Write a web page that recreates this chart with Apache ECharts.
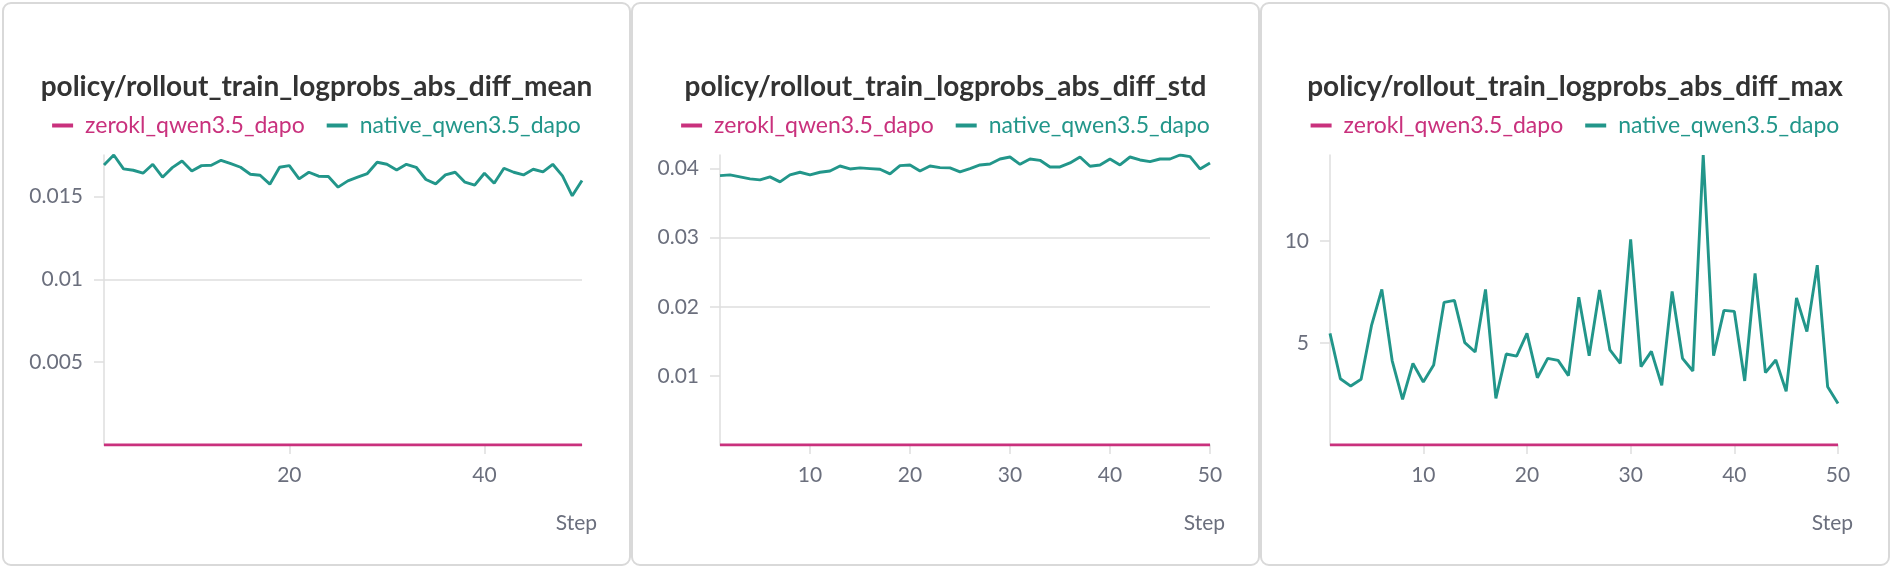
<!DOCTYPE html>
<html>
<head>
<meta charset="utf-8">
<script src="https://cdn.jsdelivr.net/npm/echarts@6/dist/echarts.min.js"></script>
<style>
  html, body { margin: 0; padding: 0; background: #fff; }
  body { width: 1892px; height: 572px; position: relative; overflow: hidden; }
  .card {
    position: absolute;
    top: 2px;
    height: 564px;
    box-sizing: border-box;
    border: 2px solid #d9d9d9;
    border-radius: 9px;
    background: #fff;
  }
  .card .chart { width: 100%; height: 100%; }
</style>
</head>
<body>
<div class="card" style="left:2px;width:629px"><div class="chart" id="chart-mean"></div></div>
<div class="card" style="left:631px;width:629px"><div class="chart" id="chart-std"></div></div>
<div class="card" style="left:1260px;width:630px"><div class="chart" id="chart-max"></div></div>
<script>
// ---- data ----
const steps = [
  1, 2, 3, 4, 5, 6, 7, 8, 9, 10,
  11, 12, 13, 14, 15, 16, 17, 18, 19, 20,
  21, 22, 23, 24, 25, 26, 27, 28, 29, 30,
  31, 32, 33, 34, 35, 36, 37, 38, 39, 40,
  41, 42, 43, 44, 45, 46, 47, 48, 49, 50
]

const nativeMean = [
  0.0169, 0.0175, 0.01666, 0.01658, 0.0164, 0.01694, 0.01616, 0.01674, 0.01714, 0.01654,
  0.01686, 0.01688, 0.01718, 0.01698, 0.01676, 0.01634, 0.01628, 0.01574, 0.01676, 0.01686,
  0.01606, 0.01646, 0.01622, 0.0162, 0.01556, 0.01594, 0.01616, 0.01638, 0.01706, 0.01694,
  0.0166, 0.01694, 0.01676, 0.01602, 0.01576, 0.0163, 0.01646, 0.01586, 0.01568, 0.0164,
  0.0158, 0.0167, 0.01646, 0.0163, 0.01664, 0.01648, 0.01694, 0.01624, 0.01504, 0.01596
]
const zeroklMean = [
  0, 0, 0, 0, 0, 0, 0, 0, 0, 0,
  0, 0, 0, 0, 0, 0, 0, 0, 0, 0,
  0, 0, 0, 0, 0, 0, 0, 0, 0, 0,
  0, 0, 0, 0, 0, 0, 0, 0, 0, 0,
  0, 0, 0, 0, 0, 0, 0, 0, 0, 0
]

const nativeStd = [
  0.03899, 0.03909, 0.0388, 0.03851, 0.03837, 0.0388, 0.03808, 0.03909, 0.03947, 0.03909,
  0.03947, 0.03966, 0.04038, 0.03995, 0.0401, 0.04, 0.0399, 0.03923, 0.04043, 0.04053,
  0.03966, 0.04038, 0.04014, 0.0401, 0.03952, 0.04, 0.04053, 0.04067, 0.04139, 0.04168,
  0.04062, 0.04139, 0.0412, 0.04024, 0.04024, 0.04082, 0.04168, 0.04034, 0.04053, 0.04139,
  0.04053, 0.04168, 0.04125, 0.04101, 0.04139, 0.04139, 0.04197, 0.04173, 0.03995, 0.04082
]
const zeroklStd = [
  0, 0, 0, 0, 0, 0, 0, 0, 0, 0,
  0, 0, 0, 0, 0, 0, 0, 0, 0, 0,
  0, 0, 0, 0, 0, 0, 0, 0, 0, 0,
  0, 0, 0, 0, 0, 0, 0, 0, 0, 0,
  0, 0, 0, 0, 0, 0, 0, 0, 0, 0
]

const nativeMax = [
  5.47, 3.25, 2.89, 3.22, 5.85, 7.63, 4.13, 2.24, 4.0, 3.09,
  3.92, 6.99, 7.09, 5.02, 4.56, 7.63, 2.29, 4.46, 4.36, 5.47,
  3.3, 4.25, 4.15, 3.4, 7.25, 4.38, 7.6, 4.66, 4.0, 10.08,
  3.84, 4.59, 2.92, 7.53, 4.25, 3.63, 14.22, 4.38, 6.6, 6.55,
  3.14, 8.42, 3.55, 4.17, 2.63, 7.21, 5.56, 8.82, 2.86, 2.04
]
const zeroklMax = [
  0, 0, 0, 0, 0, 0, 0, 0, 0, 0,
  0, 0, 0, 0, 0, 0, 0, 0, 0, 0,
  0, 0, 0, 0, 0, 0, 0, 0, 0, 0,
  0, 0, 0, 0, 0, 0, 0, 0, 0, 0,
  0, 0, 0, 0, 0, 0, 0, 0, 0, 0
]

// tick labels
const xTicksMean = [20, 40]
const xTicksStd = [10, 20, 30, 40, 50]
const xTicksMax = [10, 20, 30, 40, 50]
const yTicksMean = [0.005, 0.01, 0.015]
const yTicksStd = [0.01, 0.02, 0.03, 0.04]
const yTicksMax = [5, 10]

const SERIES_ZEROKL = 'zerokl_qwen3.5_dapo'
const SERIES_NATIVE = 'native_qwen3.5_dapo'

// ---- styling ----
const FONT = 'Lato, "Noto Sans", sans-serif'
const COLOR_ZEROKL = '#c9317d'
const COLOR_NATIVE = '#22968a'
const COLOR_LABEL = '#6b6f7d'
const COLOR_GRID = '#dedede'

function toPoints(values) {
  return steps.map((s, i) => [s, values[i]])
}

function buildOption(cfg) {
  return {
    animation: false,
    textStyle: { fontFamily: FONT },
    title: {
      text: cfg.title,
      left: 'center',
      top: 64,
      textStyle: { fontFamily: FONT, fontSize: 28, fontWeight: 'bold', color: '#333333' },
    },
    legend: {
      left: 'center',
      top: 105,
      icon: 'rect',
      itemWidth: 21,
      itemHeight: 4,
      itemGap: 22,
      textStyle: { fontFamily: FONT, fontSize: 23, padding: [0, 0, 0, 7] },
      data: [
        { name: SERIES_ZEROKL, textStyle: { color: COLOR_ZEROKL } },
        { name: SERIES_NATIVE, textStyle: { color: COLOR_NATIVE } },
      ],
    },
    grid: { left: cfg.gridLeft, top: 151, width: cfg.gridWidth, height: 290 },
    xAxis: {
      type: 'value',
      min: 1,
      max: 50,
      name: 'Step',
      nameLocation: 'end',
      nameGap: 15,
      nameTextStyle: {
        fontFamily: FONT, fontSize: 21, color: COLOR_LABEL,
        align: 'right', verticalAlign: 'top', padding: [68, 0, 0, 0],
      },
      axisLine: { show: true, lineStyle: { color: COLOR_GRID, width: 1.5 } },
      axisTick: { show: true, length: 9, customValues: cfg.xTicks, lineStyle: { color: COLOR_GRID, width: 1.5 } },
      axisLabel: { customValues: cfg.xTicks, margin: 20, fontSize: 21, color: COLOR_LABEL, formatter: v => String(v) },
      splitLine: { show: false },
    },
    yAxis: {
      type: 'value',
      min: 0,
      max: 'dataMax',
      axisLine: { show: true, lineStyle: { color: COLOR_GRID, width: 1.5 } },
      axisTick: { show: true, length: 10, customValues: cfg.yTicks, lineStyle: { color: COLOR_GRID, width: 1.5 } },
      axisLabel: { customValues: cfg.yTicks, margin: 21, fontSize: 21, color: COLOR_LABEL, formatter: v => String(v) },
      splitLine: { show: true, showMinLine: false, showMaxLine: false, lineStyle: { color: COLOR_GRID, width: 1.5 } },
    },
    series: [
      {
        name: SERIES_ZEROKL,
        type: 'line',
        data: toPoints(cfg.zerokl),
        showSymbol: false,
        color: COLOR_ZEROKL,
        lineStyle: { width: 3, color: COLOR_ZEROKL },
        z: 3,
      },
      {
        name: SERIES_NATIVE,
        type: 'line',
        data: toPoints(cfg.native),
        showSymbol: false,
        color: COLOR_NATIVE,
        lineStyle: { width: 2.9, color: COLOR_NATIVE },
        z: 2,
      },
    ],
  }
}

const panels = [
  {
    el: 'chart-mean',
    title: 'policy/rollout_train_logprobs_abs_diff_mean',
    native: nativeMean, zerokl: zeroklMean,
    xTicks: xTicksMean, yTicks: yTicksMean,
    gridLeft: 100, gridWidth: 478,
  },
  {
    el: 'chart-std',
    title: 'policy/rollout_train_logprobs_abs_diff_std',
    native: nativeStd, zerokl: zeroklStd,
    xTicks: xTicksStd, yTicks: yTicksStd,
    gridLeft: 87, gridWidth: 490,
  },
  {
    el: 'chart-max',
    title: 'policy/rollout_train_logprobs_abs_diff_max',
    native: nativeMax, zerokl: zeroklMax,
    xTicks: xTicksMax, yTicks: yTicksMax,
    gridLeft: 68, gridWidth: 508,
  },
]

panels.forEach(cfg => {
  const chart = echarts.init(document.getElementById(cfg.el), null, { renderer: 'canvas' })
  chart.setOption(buildOption(cfg))
})
</script>
</body>
</html>
